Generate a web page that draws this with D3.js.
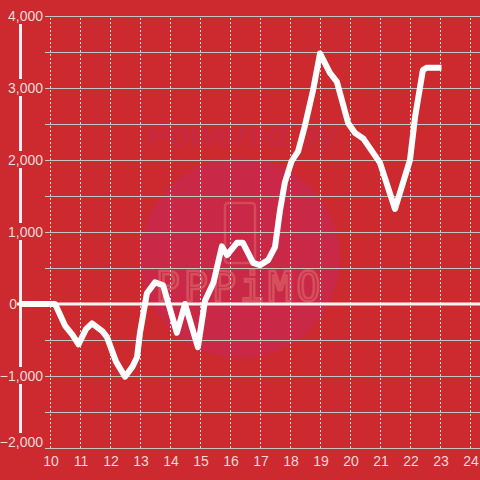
<!DOCTYPE html>
<html>
<head>
<meta charset="utf-8">
<script src="https://cdn.jsdelivr.net/npm/d3@7"></script>
<style>
  html, body { margin: 0; padding: 0; background: #cc2a2f; }
  svg { display: block; font-family: "Liberation Sans", Arial, sans-serif; }
</style>
</head>
<body>
<div id="chart"></div>
<script>
// hours of the day and balance at each point
var hours = [9, 10, 10.17, 10.5, 10.75, 10.95, 11.2, 11.4, 11.75, 11.9, 12.2, 12.5, 12.75, 12.9, 13.0,
  13.23, 13.5, 13.77, 14.23, 14.5, 14.93, 15.17, 15.45, 15.73, 15.9, 16.23, 16.43, 16.77, 17.0,
  17.27, 17.5, 17.67, 17.83, 18.05, 18.27, 18.5, 18.77, 19.0, 19.33, 19.56, 19.94, 20.17, 20.44,
  21.0, 21.5, 22.0, 22.17, 22.43, 22.55, 23.05];
var values = [0, 0, 0, -300, -430, -560, -350, -270, -380, -460, -800, -1010, -870, -740, -400,
  150, 300, 260, -400, 0, -600, 50, 300, 800, 680, 850, 850, 570, 540,
  610, 790, 1310, 1690, 1980, 2120, 2480, 2970, 3480, 3210, 3090, 2510, 2375, 2300,
  1960, 1320, 2000, 2600, 3250, 3280, 3280];
var xTicks = [10, 11, 12, 13, 14, 15, 16, 17, 18, 19, 20, 21, 22, 23, 24];
var yTicks = [4000, 3000, 2000, 1000, 0, -1000, -2000];
var yGrid = [4000, 3500, 3000, 2500, 2000, 1500, 1000, 500, -500, -1000, -1500, -2000];

var W = 480, H = 480;
var bg = "#cc2a2f";

var x = d3.scaleLinear().domain([9, 24]).range([20, 470]);
var y = d3.scaleLinear().domain([-2000, 4000]).range([448, 16]);

var svg = d3.select("#chart").append("svg")
  .attr("width", W)
  .attr("height", H);

svg.append("rect").attr("width", W).attr("height", H).attr("fill", bg);

// watermark
var wm = svg.append("g").attr("class", "watermark");
wm.append("circle").attr("cx", 240).attr("cy", 258).attr("r", 100).attr("fill", "#c92846");
wm.append("text")
  .attr("x", 242).attr("y", 146)
  .attr("text-anchor", "middle")
  .attr("font-size", 34).attr("font-weight", "bold").attr("font-style", "italic")
  .attr("fill", "#c72a40")
  .text("Powered by");
wm.append("rect")
  .attr("x", 225).attr("y", 203).attr("width", 30).attr("height", 60).attr("rx", 3)
  .attr("fill", "none").attr("stroke", "#d44a5a").attr("stroke-width", 2.5);
wm.append("text")
  .attr("x", 240).attr("y", 301)
  .attr("text-anchor", "middle")
  .attr("font-size", 40).attr("letter-spacing", 4)
  .attr("font-family", "DejaVu Sans Mono, monospace")
  .attr("fill", "none").attr("stroke", "#d5505c").attr("stroke-width", 2.5)
  .text("PPPiMO");

// horizontal gridlines
svg.append("g")
  .selectAll("line")
  .data(yGrid)
  .enter().append("line")
  .attr("x1", 45).attr("x2", W)
  .attr("y1", function(d) { return y(d) + 0.5; })
  .attr("y2", function(d) { return y(d) + 0.5; })
  .attr("stroke", "#c9c4c4").attr("stroke-width", 1);

// vertical dotted gridlines
svg.append("g")
  .selectAll("line")
  .data(xTicks)
  .enter().append("line")
  .attr("x1", function(d) { return x(d) + 0.5; })
  .attr("x2", function(d) { return x(d) + 0.5; })
  .attr("y1", y(4000) + 2).attr("y2", y(-2000))
  .attr("stroke", "#eadede").attr("stroke-width", 1)
  .attr("stroke-dasharray", "2,2");

// left axis line
svg.append("line")
  .attr("x1", 20.5).attr("x2", 20.5)
  .attr("y1", y(4000)).attr("y2", y(-2000))
  .attr("stroke", "#f4f0f0").attr("stroke-width", 3);

// zero line
svg.append("line")
  .attr("x1", 17).attr("x2", W)
  .attr("y1", y(0)).attr("y2", y(0))
  .attr("stroke", "#f8f4f4").attr("stroke-width", 3);

// y labels with background to break the axis line
function labelY(d) { return d === -2000 ? y(d) - 6 : y(d); }
var yl = svg.append("g").selectAll("g")
  .data(yTicks)
  .enter().append("g");
yl.append("rect")
  .attr("x", function(d) { return d === 0 ? 6 : 0; })
  .attr("y", function(d) { return labelY(d) - 9; })
  .attr("width", function(d) { return d === 0 ? 12 : 44; })
  .attr("height", function(d) { return d === -2000 ? 40 : 17; })
  .attr("fill", function(d) { return d === 0 ? "none" : bg; });
yl.append("text")
  .attr("x", function(d) { return d === 0 ? 17 : 43; })
  .attr("y", function(d) { return labelY(d) + 5; })
  .attr("text-anchor", "end")
  .attr("font-size", 14)
  .attr("fill", "#f3d8d8")
  .text(function(d) { return d3.format(",")(d); });

// x labels
svg.append("g")
  .selectAll("text")
  .data(xTicks)
  .enter().append("text")
  .attr("x", function(d) { return x(d) + 1; })
  .attr("y", 466)
  .attr("text-anchor", "middle")
  .attr("font-size", 14)
  .attr("fill", "#f3d8d8")
  .text(function(d) { return d; });

// data line
var pts = hours.map(function(h, i) { return [h, values[i]]; });
var line = d3.line()
  .x(function(d) { return x(d[0]); })
  .y(function(d) { return y(d[1]); });

svg.append("path")
  .datum(pts)
  .attr("d", line)
  .attr("fill", "none")
  .attr("stroke", "#ffffff")
  .attr("stroke-width", 6)
  .attr("stroke-linejoin", "round");
</script>
</body>
</html>
